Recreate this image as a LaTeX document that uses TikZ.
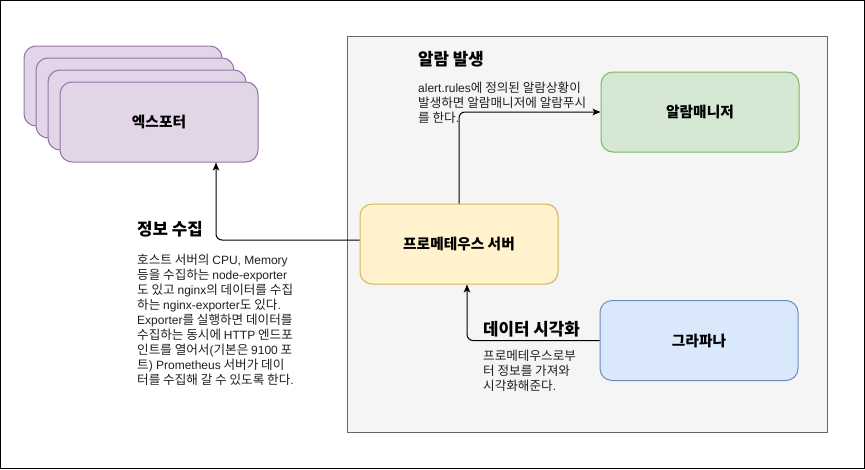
\documentclass[tikz,border=0pt]{standalone}
\usepackage{fontspec}
\setmainfont{Noto Sans CJK KR}[Scale=1.05]
\newfontfamily\latf{Liberation Sans}
\newcommand\latx[1]{{\latf #1}}
\usetikzlibrary{arrows.meta}
\definecolor{contfill}{HTML}{F5F5F5}
\definecolor{contline}{HTML}{666666}
\definecolor{expfill}{HTML}{E1D5E7}
\definecolor{expline}{HTML}{9673A6}
\definecolor{promfill}{HTML}{FFF2CC}
\definecolor{promline}{HTML}{D6B656}
\definecolor{alfill}{HTML}{D5E8D4}
\definecolor{alline}{HTML}{82B366}
\definecolor{grfill}{HTML}{DAE8FC}
\definecolor{grline}{HTML}{6C8EBF}
\definecolor{bodytext}{HTML}{1F1F1F}
\begin{document}
\begin{tikzpicture}[x=1pt,y=-1pt,
  box/.style={rectangle, rounded corners=12pt, minimum width=198pt, minimum height=80pt, inner sep=0pt, line width=1pt, font=\fontsize{14}{16}\selectfont\bfseries},
  title/.style={anchor=north west, inner sep=0pt, font=\fontsize{16}{18}\selectfont\bfseries},
  body/.style={anchor=north west, inner sep=0pt, align=left, text=bodytext, font=\fontsize{12}{15}\selectfont},
  arr/.style={line width=1pt, -{Stealth[length=8pt,width=6.5pt,inset=2pt]}, rounded corners=6pt}]
\useasboundingbox (0,0) rectangle (865,469);
\draw[black, line width=1pt] (0.5,0.5) rectangle (864.5,468.5);
\draw[fill=contfill, draw=contline, line width=1pt] (347.5,36.5) rectangle (827.5,432.5);

\node[box, fill=expfill, draw=expline] (exp1) at (123,86) {};
\node[box, fill=expfill, draw=expline] (exp2) at (135,98) {};
\node[box, fill=expfill, draw=expline] (exp3) at (147,110) {};
\node[box, fill=expfill, draw=expline] (exp4) at (159,122) {엑스포터};

\node[box, fill=promfill, draw=promline] (prom) at (459,244) {프로메테우스 서버};
\node[box, fill=alfill, draw=alline] (alert) at (700,112) {알람매니저};
\node[box, fill=grfill, draw=grline] (graf) at (699,340.5) {그라파나};

\draw[arr] ([yshift=4pt]prom.west) -| ([xshift=57pt]exp4.south);
\draw[arr] (prom.north) |- (alert.west);
\draw[arr] (graf.west) -| ([xshift=8pt]prom.south);

\node[title] (t1) at (137,221.5) {정보 수집};
\node[body] (b1) at (137,254) {호스트 서버의 \latx{CPU, Memory}\\
등을 수집하는 \latx{node-exporter}\\
도 있고 \latx{nginx}의 데이터를 수집\\
하는 \latx{nginx-exporter}도 있다\latx{.}\\
\latx{Exporter}를 실행하면 데이터를\\
수집하는 동시에 \latx{HTTP} 엔드포\\
인트를 열어서\latx{(}기본은 \latx{9100} 포\\
트\latx{) Prometheus} 서버가 데이\\
터를 수집해 갈 수 있도록 한다\latx{.}};

\node[title] (t2) at (418,51.5) {알람 발생};
\node[body] (b2) at (418,81.5) {\latx{alert.rules}에 정의된 알람상황이\\
발생하면 알람매니저에 알람푸시\\
를 한다\latx{.}};

\node[title] (t3) at (483,321.5) {데이터 시각화};
\node[body] (b3) at (483,349.5) {프로메테우스로부\\
터 정보를 가져와\\
시각화해준다\latx{.}};
\end{tikzpicture}
\end{document}
